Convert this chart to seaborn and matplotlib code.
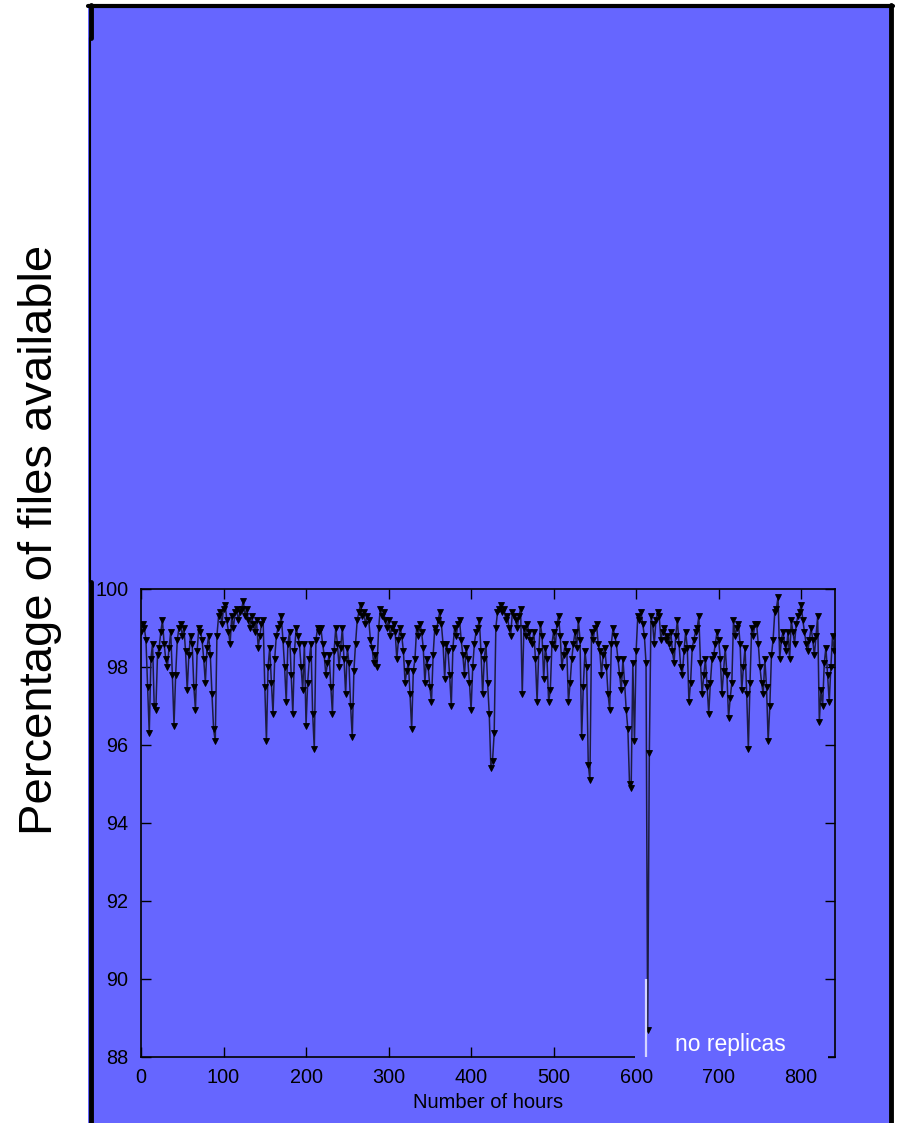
import numpy as np
import pandas as pd
import seaborn as sns
import matplotlib.pyplot as plt
from matplotlib.patches import Rectangle
from matplotlib.lines import Line2D

# availability, one value every 2 hours (0..840)
hours = np.arange(0, 841, 2)
availability = [
    98.9, 99.1, 99.0, 98.7, 97.5, 96.3, 98.2, 98.6, 97.0, 96.9, 98.3, 98.5, 98.9, 99.2, 98.6, 98.2, 98.0, 98.5, 98.9, 97.8,
    96.5, 97.8, 98.7, 99.0, 99.1, 98.8, 99.0, 98.4, 97.4, 98.3, 98.8, 98.6, 97.5, 96.9, 98.4, 99.0, 98.9, 98.7, 98.2, 97.6,
    98.5, 98.8, 98.3, 97.3, 96.4, 96.1, 98.8, 99.3, 99.4, 99.1, 99.5, 99.6, 99.2, 98.9, 98.6, 99.3, 99.0, 99.4, 99.5, 99.2,
    99.4, 99.5, 99.7, 99.3, 99.5, 99.2, 99.0, 99.3, 99.1, 98.9, 99.2, 98.5, 98.8, 99.1, 99.2, 97.5, 96.1, 98.0, 98.5, 97.6,
    96.8, 98.2, 98.8, 99.0, 99.1, 99.3, 98.7, 98.0, 97.1, 98.6, 98.9, 97.8, 96.8, 98.4, 99.0, 98.8, 98.6, 98.0, 97.4, 98.6,
    96.5, 97.6, 98.2, 98.6, 96.8, 95.9, 98.7, 99.0, 98.9, 99.0, 98.6, 98.3, 97.8, 98.1, 98.3, 97.5, 96.8, 98.4, 99.0, 98.6,
    98.0, 98.5, 99.0, 98.2, 97.3, 98.5, 98.1, 97.0, 96.2, 97.9, 98.6, 99.2, 99.4, 99.6, 99.3, 99.4, 99.1, 99.3, 99.2, 98.7,
    98.5, 98.1, 98.3, 98.0, 99.0, 99.5, 99.3, 99.4, 99.2, 99.0, 99.2, 98.8, 99.0, 99.1, 98.9, 98.2, 98.7, 99.0, 98.8, 98.4,
    97.6, 97.9, 98.1, 97.3, 96.4, 97.9, 98.2, 99.0, 98.8, 99.1, 98.9, 98.5, 97.6, 98.2, 98.0, 97.5, 97.1, 98.3, 99.0, 98.9,
    99.2, 99.4, 99.1, 98.6, 97.7, 98.6, 98.4, 97.8, 97.0, 98.5, 99.0, 98.8, 99.1, 99.2, 98.7, 98.3, 97.8, 98.5, 98.2, 97.6,
    96.9, 98.0, 98.6, 98.9, 99.0, 99.2, 98.4, 97.3, 98.2, 98.6, 97.6, 96.8, 95.4, 95.6, 96.3, 99.0, 99.4, 99.5, 99.6, 99.4,
    99.5, 99.2, 99.3, 99.0, 98.8, 99.4, 99.3, 99.2, 99.0, 99.3, 99.5, 97.3, 99.0, 98.8, 99.1, 98.9, 98.7, 98.6, 98.9, 98.2,
    97.1, 98.4, 99.1, 98.8, 97.7, 98.5, 98.2, 97.1, 97.4, 98.6, 98.9, 98.5, 99.1, 99.3, 98.8, 98.0, 98.3, 98.6, 98.4, 97.1,
    97.6, 98.2, 98.6, 98.9, 98.5, 99.2, 98.7, 96.2, 97.5, 98.4, 98.0, 95.5, 95.1, 98.9, 98.7, 99.0, 99.1, 98.6, 98.4, 97.8,
    98.3, 98.5, 98.0, 97.3, 96.9, 98.6, 99.0, 98.8, 98.6, 98.2, 97.8, 97.4, 98.2, 97.6, 96.9, 96.4, 95.0, 94.9, 98.1, 96.1,
    98.4, 99.3, 99.2, 99.4, 99.1, 98.8, 98.1, 88.7, 95.8, 99.3, 99.1, 98.6, 99.2, 99.4, 99.3, 98.7, 98.9, 99.0, 98.7, 98.8,
    98.6, 98.9, 98.4, 98.1, 98.8, 99.2, 98.6, 98.0, 97.8, 98.4, 98.9, 98.5, 97.1, 97.6, 98.5, 98.7, 98.9, 99.0, 99.3, 98.1,
    97.3, 97.8, 98.2, 97.5, 96.8, 97.6, 98.2, 98.3, 98.6, 98.9, 98.7, 98.2, 97.3, 97.9, 98.5, 97.8, 96.7, 97.2, 97.6, 99.2,
    98.8, 99.0, 99.1, 98.6, 97.4, 98.0, 98.5, 97.3, 95.9, 97.6, 99.0, 98.8, 99.1, 99.1, 98.6, 98.0, 97.6, 97.3, 98.2, 97.5,
    96.1, 97.0, 98.3, 98.7, 99.4, 99.5, 99.8, 98.2, 98.7, 98.9, 98.6, 98.4, 98.9, 98.2, 99.2, 98.9, 98.6, 99.1, 99.3, 99.4,
    99.6, 99.2, 98.9, 98.6, 98.4, 98.7, 99.0, 98.7, 98.3, 98.8, 99.3, 96.6, 97.4, 97.0, 98.1, 98.5, 97.8, 97.1, 98.0, 98.8,
    98.4,
]

# the "no replicas" marker
no_replica_hour = 612.5
no_replica_low = 88
no_replica_high = 90

xticks = [0, 100, 200, 300, 400, 500, 600, 700, 800]
yticks = [88, 90, 92, 94, 96, 98, 100]

df = pd.DataFrame({"hours": hours, "availability": availability})

sns.set_theme(style="ticks")
plt.rcParams["font.family"] = ["Liberation Sans", "DejaVu Sans"]

blue = "#6666ff"
W, H = 897, 1123
fig = plt.figure(figsize=(W / 100, H / 100), dpi=100)
fig.patch.set_facecolor("white")

# big blue panel with black frame (behind the axes)
fig.patches.append(Rectangle((88 / W, 0), (893 - 88) / W, (H - 5) / H,
                             transform=fig.transFigure, facecolor=blue, edgecolor="none", zorder=-2))
frame = [
    ((88 / W, 893 / W), (1 - 6 / H, 1 - 6 / H), 3.0),
    ((890.5 / W, 890.5 / W), (1 - 5 / H, 0), 3.5),
    ((90.5 / W, 90.5 / W), (1 - 5 / H, 1 - 38 / H), 3.5),
    ((89.5 / W, 89.5 / W), (1 - 38 / H, 1 - 582 / H), 1.5),
    ((90.5 / W, 90.5 / W), (1 - 582 / H, 0), 3.5),
]
for xs, ys, lw in frame:
    fig.lines.append(Line2D(xs, ys, transform=fig.transFigure, color="black", lw=lw, zorder=-1))

ax = fig.add_axes([141 / W, (H - 1057) / H, (835 - 141) / W, (1057 - 589) / H])
ax.set_zorder(1)
ax.set_facecolor(blue)

sns.lineplot(data=df, x="hours", y="availability", ax=ax, estimator=None,
             color="#1c1c40", lw=1.1, marker="v", markersize=5,
             markerfacecolor="black", markeredgecolor="black", markeredgewidth=0.6)

ax.set_xlim(0, 841)
ax.set_ylim(88, 100)
ax.set_xticks(xticks)
ax.set_yticks(yticks)
ax.tick_params(direction="in", length=7, width=1, colors="black", labelsize=14.3,
               top=True, right=True, pad=8)
ax.tick_params(axis="y", pad=9)
for s in ax.spines.values():
    s.set_color("black")
    s.set_linewidth(1.2)

ax.set_xlabel("Number of hours", fontsize=14.5, color="black", labelpad=4)
ax.set_ylabel("")
fig.text(40 / W, 1 - 540 / H, "Percentage of files available", rotation=90,
         ha="center", va="center", fontsize=34, color="black")

# key box hiding the bottom axis line, with the marker and its label
ax.add_patch(Rectangle((634.5 / W, (H - 1064) / H), (828 - 634.5) / W, 20 / H,
                       transform=fig.transFigure, facecolor=blue, edgecolor="none",
                       zorder=5, clip_on=False))
ax.vlines(no_replica_hour, no_replica_low, no_replica_high, color="#d4d4ff", lw=1.6, zorder=6)
ax.text(730 / W, 1 - 1045 / H, "no replicas", transform=fig.transFigure,
        ha="center", va="center", fontsize=16.5, color="white", zorder=7)

fig.savefig("out.png", dpi=100)
